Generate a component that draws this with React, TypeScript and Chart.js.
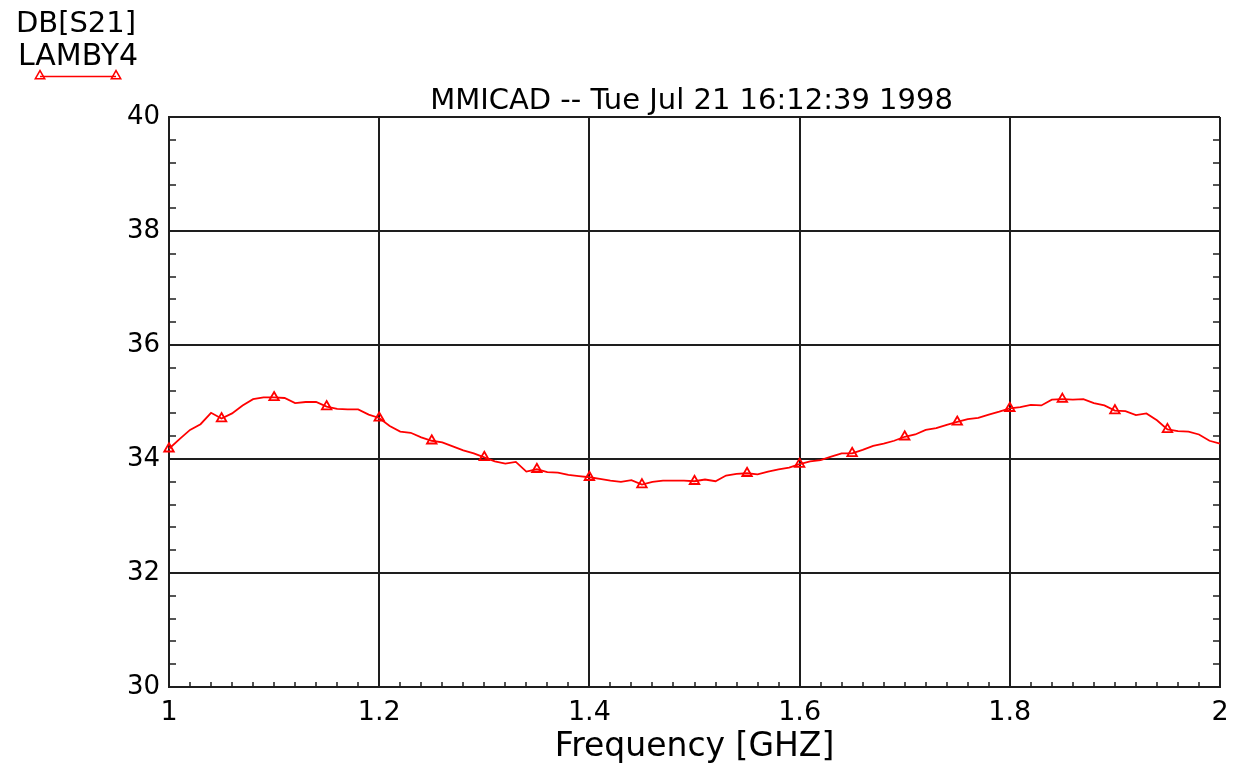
import React, { useEffect, useRef } from 'react';
import { Chart, registerables } from 'chart.js';

Chart.register(...registerables);

const frequencies = [
  1.00, 1.01, 1.02, 1.03, 1.04, 1.05, 1.06, 1.07, 1.08, 1.09,
  1.10, 1.11, 1.12, 1.13, 1.14, 1.15, 1.16, 1.17, 1.18, 1.19,
  1.20, 1.21, 1.22, 1.23, 1.24, 1.25, 1.26, 1.27, 1.28, 1.29,
  1.30, 1.31, 1.32, 1.33, 1.34, 1.35, 1.36, 1.37, 1.38, 1.39,
  1.40, 1.41, 1.42, 1.43, 1.44, 1.45, 1.46, 1.47, 1.48, 1.49,
  1.50, 1.51, 1.52, 1.53, 1.54, 1.55, 1.56, 1.57, 1.58, 1.59,
  1.60, 1.61, 1.62, 1.63, 1.64, 1.65, 1.66, 1.67, 1.68, 1.69,
  1.70, 1.71, 1.72, 1.73, 1.74, 1.75, 1.76, 1.77, 1.78, 1.79,
  1.80, 1.81, 1.82, 1.83, 1.84, 1.85, 1.86, 1.87, 1.88, 1.89,
  1.90, 1.91, 1.92, 1.93, 1.94, 1.95, 1.96, 1.97, 1.98, 1.99,
  2.00,
];

const s21Lamby4 = [
  34.18, 34.35, 34.51, 34.61, 34.81, 34.71, 34.80, 34.94, 35.05, 35.08,
  35.08, 35.07, 34.98, 35.00, 35.00, 34.92, 34.88, 34.87, 34.87, 34.78,
  34.72, 34.58, 34.48, 34.46, 34.38, 34.32, 34.29, 34.22, 34.15, 34.10,
  34.03, 33.96, 33.92, 33.95, 33.78, 33.82, 33.77, 33.76, 33.72, 33.70,
  33.68, 33.65, 33.62, 33.60, 33.63, 33.55, 33.60, 33.62, 33.62, 33.62,
  33.61, 33.64, 33.61, 33.71, 33.74, 33.75, 33.73, 33.78, 33.82, 33.85,
  33.91, 33.96, 33.98, 34.04, 34.10, 34.10, 34.16, 34.23, 34.27, 34.32,
  34.39, 34.43, 34.51, 34.54, 34.60, 34.65, 34.70, 34.72, 34.78, 34.83,
  34.89, 34.91, 34.95, 34.94, 35.04, 35.05, 35.04, 35.05, 34.98, 34.94,
  34.85, 34.84, 34.77, 34.80, 34.68, 34.52, 34.49, 34.48, 34.43, 34.32,
  34.27,
];

const xTickValues = [1, 1.2, 1.4, 1.6, 1.8, 2];
const xTickLabels = ['1', '1.2', '1.4', '1.6', '1.8', '2'];
const yTickValues = [30, 32, 34, 36, 38, 40];
const yTickLabels = ['30', '32', '34', '36', '38', '40'];

const chartTitle = 'MMICAD -- Tue Jul 21 16:12:39 1998';
const measureName = 'DB[S21]';
const seriesName = 'LAMBY4';
const xAxisTitle = 'Frequency [GHZ]';

const FONT = "'DejaVu Sans', 'Liberation Sans', sans-serif";
const RED = '#ff0000';
const GRID = '#1e1e1e';

function drawTriangle(ctx: CanvasRenderingContext2D, x: number, y: number, r: number) {
  const side = r * Math.sqrt(3);
  const h = side * Math.sqrt(3) / 2;
  ctx.beginPath();
  ctx.moveTo(x - side / 2, y + h / 3);
  ctx.lineTo(x, y - (2 * h) / 3);
  ctx.lineTo(x + side / 2, y + h / 3);
  ctx.closePath();
  ctx.stroke();
}

const decorPlugin = {
  id: 'decor',
  afterDraw(chart: any) {
    const ctx: CanvasRenderingContext2D = chart.ctx;
    const { left, right, bottom } = chart.chartArea;
    const xs = chart.scales.x;
    const ys = chart.scales.y;
    ctx.save();

    // minor ticks
    ctx.strokeStyle = GRID;
    ctx.lineWidth = 1.5;
    ctx.beginPath();
    for (let i = 0; i < yTickValues.length - 1; i++) {
      const a = yTickValues[i];
      const b = yTickValues[i + 1];
      for (let k = 1; k < 5; k++) {
        const py = Math.round(ys.getPixelForValue(a + ((b - a) * k) / 5));
        ctx.moveTo(left, py);
        ctx.lineTo(left + 7, py);
        ctx.moveTo(right - 7, py);
        ctx.lineTo(right, py);
      }
    }
    for (let i = 0; i < xTickValues.length - 1; i++) {
      const a = xTickValues[i];
      const b = xTickValues[i + 1];
      for (let k = 1; k < 10; k++) {
        const px = Math.round(xs.getPixelForValue(a + ((b - a) * k) / 10));
        ctx.moveTo(px, bottom);
        ctx.lineTo(px, bottom - 5);
      }
    }
    ctx.stroke();

    // title
    ctx.fillStyle = '#000';
    ctx.textAlign = 'center';
    ctx.textBaseline = 'alphabetic';
    ctx.font = `29px ${FONT}`;
    ctx.fillText(chartTitle, (left + right) / 2 - 3, 109);

    // legend
    ctx.font = `29px ${FONT}`;
    ctx.fillText(measureName, 76, 32);
    ctx.font = `30px ${FONT}`;
    ctx.fillText(seriesName, 78, 65);
    ctx.strokeStyle = RED;
    ctx.lineWidth = 1.5;
    ctx.beginPath();
    ctx.moveTo(40, 76.5);
    ctx.lineTo(116, 76.5);
    ctx.stroke();
    drawTriangle(ctx, 40, 76, 5.5);
    drawTriangle(ctx, 116, 76, 5.5);

    ctx.restore();
  },
};

export default function App() {
  const canvasRef = useRef<HTMLCanvasElement | null>(null);

  useEffect(() => {
    const canvas = canvasRef.current;
    if (!canvas) return;
    const chart = new Chart(canvas, {
      type: 'line',
      data: {
        datasets: [
          {
            label: seriesName,
            data: frequencies.map((f, i) => ({ x: f, y: s21Lamby4[i] })),
            borderColor: RED,
            borderWidth: 1.8,
            tension: 0,
            pointStyle: 'triangle',
            pointRadius: (c: any) => (c.dataIndex % 5 === 0 && c.dataIndex < frequencies.length - 1 ? 5.5 : 0),
            pointHoverRadius: 0,
            pointBorderColor: RED,
            pointBackgroundColor: 'rgba(255,255,255,0)',
            pointBorderWidth: 1.8,
            clip: 8,
          } as any,
        ],
      },
      options: {
        responsive: false,
        animation: false,
        events: [],
        layout: { padding: { left: 0, top: 117, right: 15, bottom: 0 } },
        plugins: {
          legend: { display: false },
          title: { display: false },
          tooltip: { enabled: false },
        },
        scales: {
          x: {
            type: 'linear',
            min: 1,
            max: 2,
            afterBuildTicks: (s: any) => {
              s.ticks = xTickValues.map((value) => ({ value }));
            },
            afterFit: (s: any) => {
              s.height = 80;
              s.paddingLeft = 0;
              s.paddingRight = 0;
            },
            ticks: {
              autoSkip: false,
              maxRotation: 0,
              padding: 10,
              color: '#000',
              font: { family: FONT, size: 27 },
              callback: (_v: any, i: number) => xTickLabels[i],
            },
            grid: { color: GRID, lineWidth: 2, drawTicks: false },
            border: { color: GRID, width: 2 },
            title: {
              display: true,
              text: xAxisTitle,
              color: '#000',
              font: { family: FONT, size: 33 },
              padding: { top: 0, bottom: 0 },
            },
          },
          y: {
            type: 'linear',
            min: 30,
            max: 40,
            afterBuildTicks: (s: any) => {
              s.ticks = yTickValues.map((value) => ({ value }));
            },
            afterFit: (s: any) => {
              s.width = 169;
              s.paddingTop = 0;
              s.paddingBottom = 0;
            },
            ticks: {
              autoSkip: false,
              padding: 9,
              color: '#000',
              font: { family: FONT, size: 26 },
              callback: (_v: any, i: number) => yTickLabels[i],
            },
            grid: { color: GRID, lineWidth: 2, drawTicks: false },
            border: { color: GRID, width: 2 },
          },
        },
      } as any,
      plugins: [decorPlugin],
    });
    return () => chart.destroy();
  }, []);

  return (
    <div style={{ position: 'absolute', left: 0, top: 0, width: 1235, height: 767, background: '#fff' }}>
      <canvas ref={canvasRef} width={1235} height={767} style={{ display: 'block' }} />
    </div>
  );
}
